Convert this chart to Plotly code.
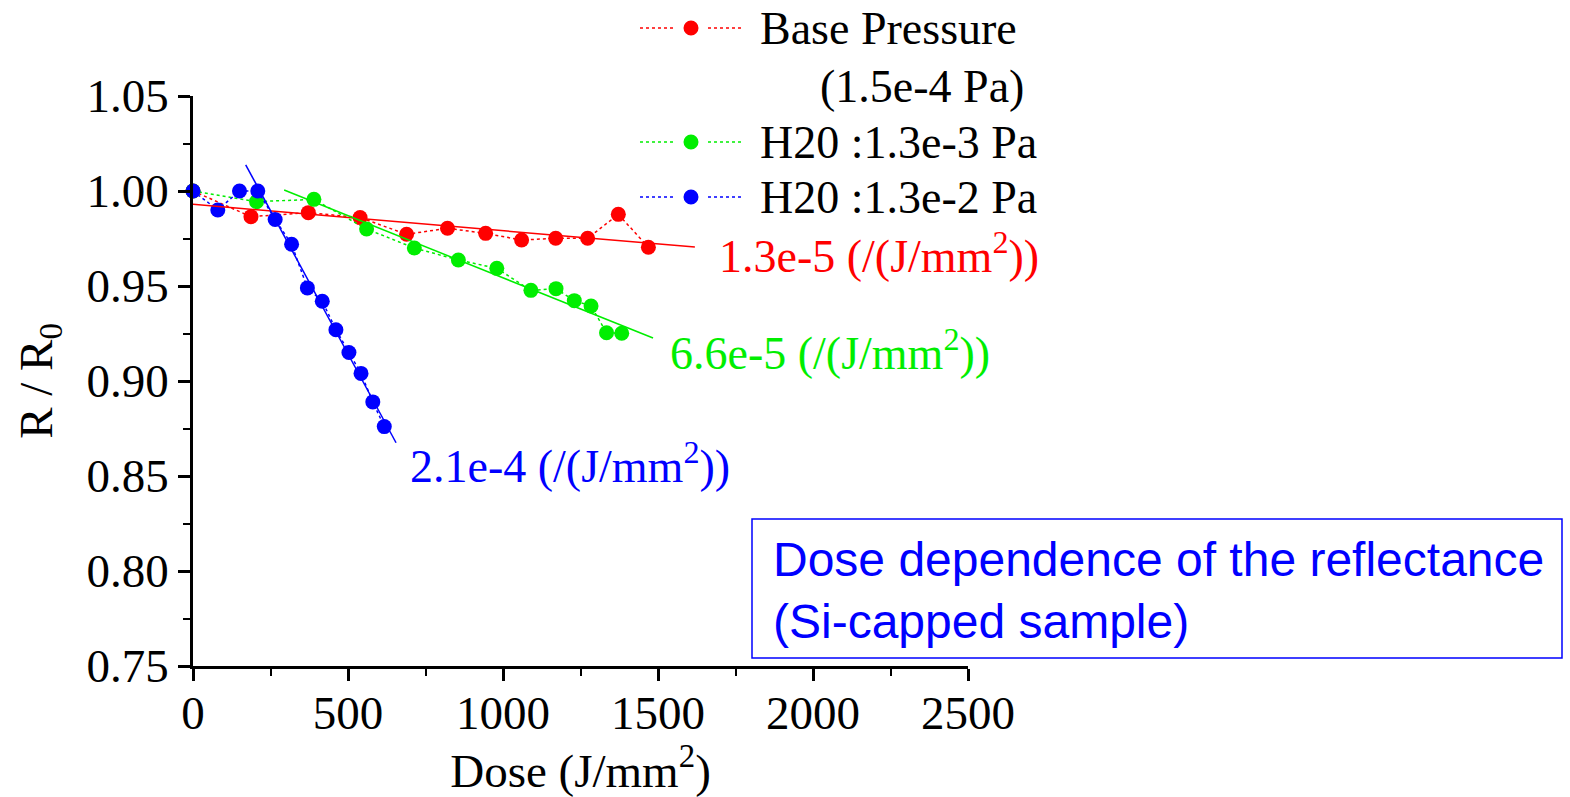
import plotly.graph_objects as go

# ---- data ----
red_x = [0, 187, 372, 539, 689, 821, 944, 1060, 1170, 1273, 1372, 1469]
red_y = [1.000, 0.9865, 0.9886, 0.986, 0.9772, 0.9804, 0.9777, 0.9742, 0.9751, 0.9751, 0.9877, 0.9704]

green_x = [0, 205, 390, 560, 714, 856, 980, 1090, 1171, 1230, 1284, 1334, 1383]
green_y = [1.000, 0.9944, 0.9956, 0.980, 0.970, 0.9637, 0.9593, 0.9477, 0.9486, 0.9423, 0.9395, 0.9254, 0.9251]

blue_x = [0, 80, 150, 209, 265, 318, 369, 417, 461, 503, 542, 580, 617]
blue_y = [1.000, 0.990, 1.000, 1.000, 0.985, 0.972, 0.949, 0.942, 0.927, 0.915, 0.904, 0.889, 0.876]

red_fit_x = [0, 1619]
red_fit_y = [0.993, 0.9705]
green_fit_x = [294, 1484]
green_fit_y = [1.0005, 0.9226]
blue_fit_x = [170, 655]
blue_fit_y = [1.0138, 0.8675]

series_names = ["Base Pressure", "H20 :1.3e-3 Pa", "H20 :1.3e-2 Pa"]
fit_labels = ["1.3e-5 (/(J/mm<sup>2</sup>))", "6.6e-5 (/(J/mm<sup>2</sup>))", "2.1e-4 (/(J/mm<sup>2</sup>))"]
x_ticks = [0, 500, 1000, 1500, 2000, 2500]
y_ticks = [0.75, 0.80, 0.85, 0.90, 0.95, 1.00, 1.05]

RED, GREEN, BLUE = "#ff0000", "#00ee00", "#0000ff"
SERIF = "Liberation Serif"
FS = 47
FS_LEG = 46

# plot-area pixel geometry
L, R, T, B = 193, 968, 96, 666
W, H = 1570, 797


def px_x(px):
    return (px - L) / (R - L)


def px_y(py):
    return (B - py) / (B - T)


fig = go.Figure()

for xs, ys, c in [(red_x, red_y, RED), (green_x, green_y, GREEN), (blue_x, blue_y, BLUE)]:
    fig.add_trace(go.Scatter(x=xs, y=ys, mode="lines+markers",
                             line=dict(color=c, width=1.5, dash="dot"),
                             marker=dict(color=c, size=15), cliponaxis=False,
                             showlegend=False))

for xs, ys, c in [(red_fit_x, red_fit_y, RED), (green_fit_x, green_fit_y, GREEN), (blue_fit_x, blue_fit_y, BLUE)]:
    fig.add_trace(go.Scatter(x=xs, y=ys, mode="lines", line=dict(color=c, width=1.5),
                             cliponaxis=False, showlegend=False))

annotations = []
shapes = []

# fit labels
for (ax, ay), txt, c in zip([(1690, 0.9675), (1532, 0.9163), (694, 0.8568)], fit_labels, [RED, GREEN, BLUE]):
    annotations.append(dict(x=ax, y=ay, xref="x", yref="y", text=txt, showarrow=False,
                            xanchor="left", yanchor="middle",
                            font=dict(family=SERIF, size=FS_LEG, color=c)))

# manual legend (long dotted symbol like the reference)
leg_rows = [(28, RED, series_names[0]), (142, GREEN, series_names[1]), (197, BLUE, series_names[2])]
for py, c, name in leg_rows:
    for xa, xb in [(640, 674), (708, 744)]:
        shapes.append(dict(type="line", xref="paper", yref="paper",
                           x0=px_x(xa), x1=px_x(xb), y0=px_y(py), y1=px_y(py),
                           line=dict(color=c, width=1.5, dash="dot")))
    shapes.append(dict(type="circle", xref="paper", yref="paper", xsizemode="pixel", ysizemode="pixel",
                       xanchor=px_x(691), yanchor=px_y(py), x0=-7.5, x1=7.5, y0=-7.5, y1=7.5,
                       fillcolor=c, line=dict(color=c, width=0)))
    annotations.append(dict(x=px_x(758), y=px_y(py), xref="paper", yref="paper", text=name,
                            showarrow=False, xanchor="left", yanchor="middle",
                            font=dict(family=SERIF, size=FS_LEG, color="black")))
annotations.append(dict(x=px_x(818), y=px_y(87), xref="paper", yref="paper", text="(1.5e-4 Pa)",
                        showarrow=False, xanchor="left", yanchor="middle",
                        font=dict(family=SERIF, size=FS_LEG, color="black")))

# title box
shapes.append(dict(type="rect", xref="paper", yref="paper",
                   x0=px_x(752), x1=px_x(1562), y0=px_y(519), y1=px_y(658),
                   line=dict(color=BLUE, width=1.5), fillcolor="rgba(0,0,0,0)"))
annotations.append(dict(x=px_x(771), y=px_y(590), xref="paper", yref="paper",
                        text="Dose dependence of the reflectance<br>(Si-capped sample)",
                        showarrow=False, xanchor="left", yanchor="middle", align="left",
                        font=dict(family="Liberation Sans", size=48, color=BLUE)))

fig.update_layout(
    width=W, height=H,
    margin=dict(l=L, r=W - R, t=T, b=H - B, pad=0, autoexpand=False),
    paper_bgcolor="white", plot_bgcolor="white",
    showlegend=False,
    annotations=annotations, shapes=shapes,
    font=dict(family=SERIF, size=FS, color="black"),
)
fig.update_xaxes(range=[0, 2500], tickvals=x_ticks, ticktext=[str(v) for v in x_ticks],
                 automargin=False, ticklabelstandoff=-8,
                 showline=True, linecolor="black", linewidth=2.5, mirror=False,
                 ticks="outside", ticklen=12, tickwidth=2.5, tickcolor="black",
                 minor=dict(dtick=250, ticks="outside", ticklen=7, tickwidth=2, tickcolor="black"),
                 showgrid=False, zeroline=False,
                 tickfont=dict(family=SERIF, size=FS),
                 title=dict(text="Dose (J/mm<sup>2</sup>)", font=dict(family=SERIF, size=FS), standoff=24))
fig.update_yaxes(range=[0.75, 1.05], tickvals=y_ticks, ticktext=[f"{v:.2f}" for v in y_ticks],
                 automargin=False,
                 showline=True, linecolor="black", linewidth=2.5, mirror=False,
                 ticks="outside", ticklen=12, tickwidth=2.5, tickcolor="black",
                 minor=dict(dtick=0.025, tick0=0.75, ticks="outside", ticklen=7, tickwidth=2, tickcolor="black"),
                 showgrid=False, zeroline=False,
                 tickfont=dict(family=SERIF, size=FS),
                 title=dict(text="R / R<sub>0</sub>", font=dict(family=SERIF, size=FS), standoff=20))

fig.write_html("out.html")
